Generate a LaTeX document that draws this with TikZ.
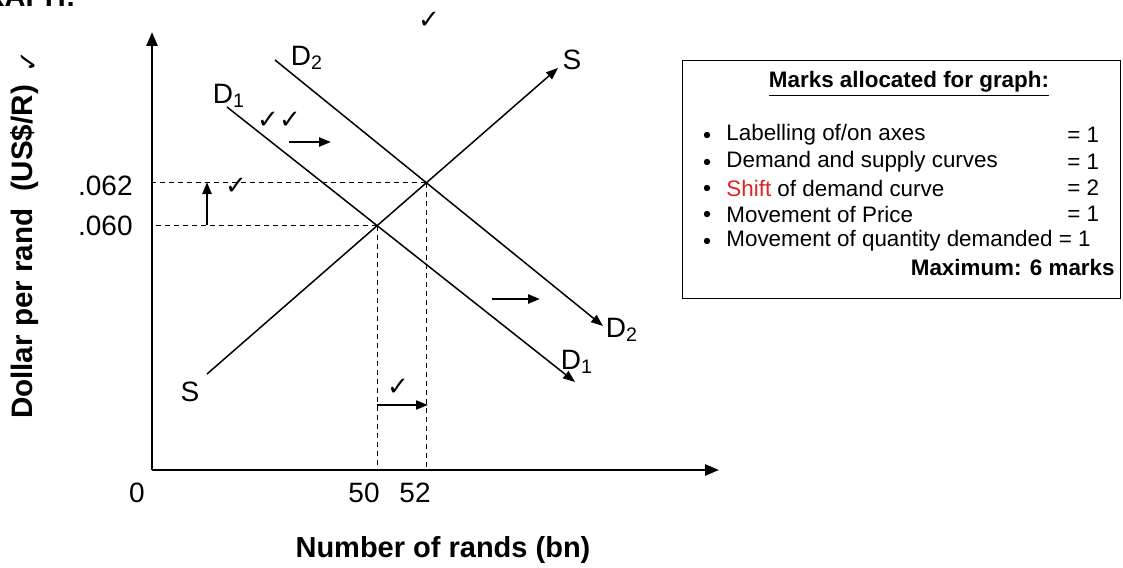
\documentclass[tikz,border=0pt]{standalone}
\usepackage{fontspec}
\setmainfont{Liberation Sans}
\newfontfamily\symfont{DejaVu Sans}
\usetikzlibrary{arrows.meta,intersections,positioning}
\definecolor{markred}{RGB}{225,35,35}

\begin{document}
\begin{tikzpicture}[x=0.5pt,y=-0.5pt,font=\fontsize{14}{16}\selectfont,
    every node/.style={inner sep=0pt},
    axis/.style={line width=1.3pt,-{Triangle[length=7pt,width=5.5pt]}},
    curve/.style={line width=0.75pt},
    guide/.style={line width=0.5pt,dash pattern=on 2.5pt off 2pt},
    shiftarrow/.style={line width=1.2pt,-{Triangle[length=6pt,width=4.5pt]}},
    chk/.style={font=\symfont\fontsize{13}{13}\selectfont},
    boxtext/.style={font=\fontsize{11.2}{13}\selectfont,anchor=west}]
    \useasboundingbox (0,0) rectangle (1123,567);
    \clip (0,0) rectangle (1123,567);
    \node[anchor=base east,font=\bfseries\fontsize{14.5}{16}\selectfont] at (76,7) (head) {GRAPH:};
    % axes
    \coordinate (O) at (152,470);
    \coordinate (ytop) at (152,32);
    \coordinate (xend) at (719,470);
    \draw[axis] (O) -- (ytop);
    \draw[axis] (O) -- (xend);
    % supply and demand
    \coordinate (Sa) at (207,374);
    \coordinate (Sb) at (558,68);
    \coordinate (D1a) at (227,107);
    \coordinate (D1b) at (575,382);
    \coordinate (D2a) at (275,60);
    \coordinate (D2b) at (603,326);
    \draw[curve,name path=supply,-{Triangle[length=6pt,width=4.5pt]}] (Sa) -- (Sb);
    \draw[curve,name path=dem1,-{Triangle[length=6pt,width=4.5pt]}] (D1a) -- (D1b);
    \draw[curve,name path=dem2,-{Triangle[length=6pt,width=4.5pt]}] (D2a) -- (D2b);
    \path[name intersections={of=supply and dem1,by=E1}];
    \path[name intersections={of=supply and dem2,by=E2}];
    \draw[guide] (E1) -- (E1 -| O);
    \draw[guide] (E1) -- (E1 |- O);
    \draw[guide] (E2) -- (E2 -| O);
    \draw[guide] (E2) -- (E2 |- O);
    % curve labels
    \node at (572,60) (Stop) {S};
    \node at (190,392) (Sbot) {S};
    \node at (307,58) (D2top) {D\textsubscript{2}};
    \node at (229,96) (D1top) {D\textsubscript{1}};
    \node at (622,330) (D2end) {D\textsubscript{2}};
    \node at (577,362) (D1end) {D\textsubscript{1}};
    % axis labels and values
    \node[anchor=east] at (133,186) (p2) {.062};
    \node[anchor=east] at (133,226) (p1) {.060};
    \node at (137,493) (zero) {0};
    \node at (364,493) (q1) {50};
    \node at (415,493) (q2) {52};
    \node[font=\bfseries\fontsize{14.5}{16}\selectfont] at (443,550) (xlab) {Number of rands (bn)};
    \node[rotate=90,font=\bfseries\fontsize{14.8}{16}\selectfont] at (25,252) (ylab) {Dollar per rand\ \ (US\$/R)};
    \node[chk,rotate=90] at (29,62) (ychk) {✓};
    % shifts and movements
    \coordinate (sh1a) at (289,142);
    \coordinate (sh1b) at (331,142);
    \coordinate (sh2a) at (492,299);
    \coordinate (sh2b) at (540,299);
    \coordinate (pa) at (207,225);
    \coordinate (pb) at (207,182);
    \coordinate (qa) at (377,405);
    \coordinate (qb) at (428,405);
    \draw[shiftarrow] (sh1a) -- (sh1b);
    \draw[shiftarrow] (sh2a) -- (sh2b);
    \draw[shiftarrow] (pa) -- (pb);
    \draw[line width=0.9pt,-{Triangle[length=6pt,width=4.5pt]}] (qa) -- (qb);
    \node[chk] at (429,20) (chktop) {✓};
    \node[chk] at (279,120) (chkshift) {✓✓};
    \node[chk] at (236,186) (chkprice) {✓};
    \node[chk] at (398,387) (chkqty) {✓};
    % marks box
    \node[draw,line width=0.6pt,minimum width=219pt,minimum height=119pt,anchor=north west] at (682,60) (marks) {};
    \node[font=\bfseries\fontsize{11.2}{13}\selectfont] at (909,84) (title) {\underline{Marks allocated for graph:}};
    \foreach \y/\txt/\val in {135/Labelling of\slash on axes/= 1,
                              162/Demand and supply curves/= 1,
                              188/{\textcolor{markred}{Shift} of demand curve}/= 2,
                              214/Movement of Price/= 1} {
      \node[boxtext] at (726,\y) {\txt};
      \node[boxtext] at (1067,\y) {\val};
      \fill (707,\y) circle (1.6pt);
    }
    \node[boxtext] at (726,241) (lastline) {Movement of quantity demanded = 1};
    \fill (707,241) circle (1.6pt);
    \node[anchor=east,font=\bfseries\fontsize{11.2}{13}\selectfont] at (1115,267) (maxm) {Maximum: 6 marks};
  \end{tikzpicture}
\end{document}
